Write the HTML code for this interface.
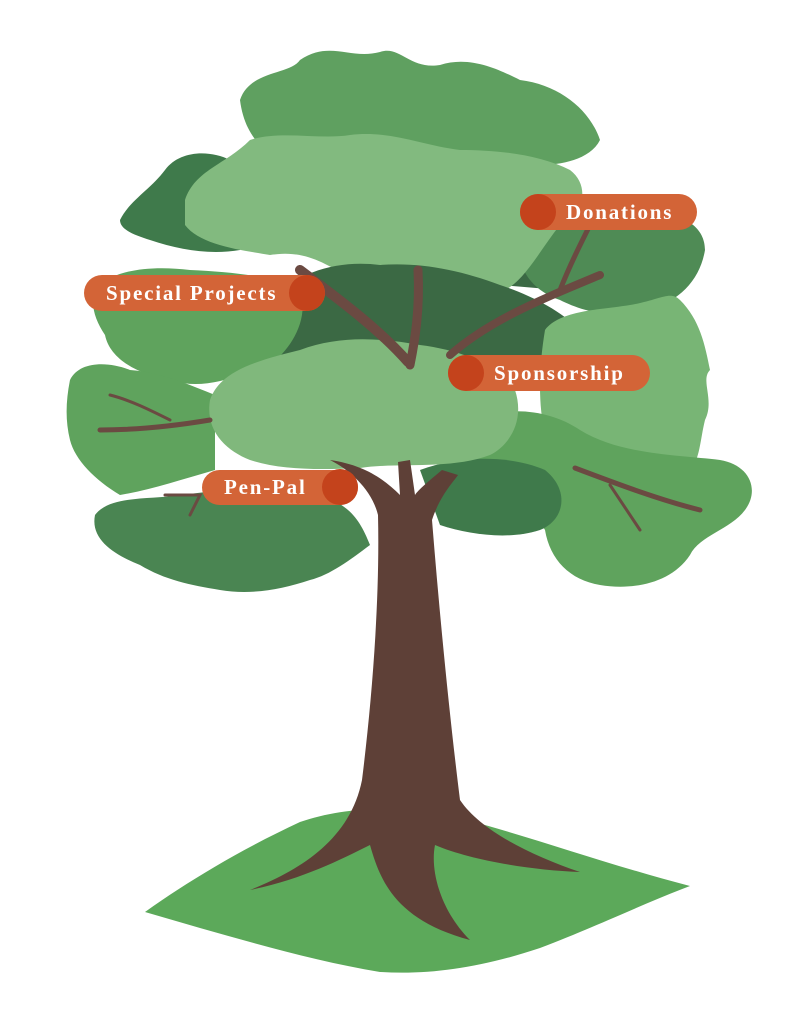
<!DOCTYPE html>
<html><head><meta charset="utf-8"><style>
html,body{margin:0;padding:0;background:#fff;}
svg{display:block;}
text{font-family:"Liberation Serif",serif;font-weight:bold;fill:#fff;letter-spacing:1.8px;}
</style></head><body>
<svg width="791" height="1023" viewBox="0 0 791 1023" xmlns="http://www.w3.org/2000/svg">
<!-- ground -->
<path d="M145,912 C190,880 240,850 300,822 C340,808 390,806 430,812 C500,825 590,860 690,886 C640,905 600,925 540,948 C480,968 430,975 380,972 C320,962 260,945 200,928 Z" fill="#5CA95A"/>
<!-- top back canopy -->
<path d="M240,100 C250,70 290,75 300,60 C330,40 350,60 380,52 C400,45 410,70 440,65 C470,55 500,70 520,80 C560,85 590,110 600,140 C590,160 560,165 540,165 L300,165 C270,160 245,140 240,100 Z" fill="#5FA060"/>
<!-- left dark top -->
<path d="M120,220 C130,200 150,190 165,170 C180,150 210,150 230,160 L240,250 C210,255 180,250 150,240 C135,235 120,230 120,220 Z" fill="#3F7A4B"/>
<!-- right dark near donations -->
<path d="M470,210 C485,200 500,210 520,225 L560,230 L560,290 L500,285 C480,270 470,240 470,210 Z" fill="#3B6944"/>
<path d="M520,240 C560,220 600,215 640,215 C680,210 705,225 705,250 C700,280 680,300 650,310 C610,320 580,310 560,300 C530,290 515,265 520,240 Z" fill="#4F8B55"/>
<!-- light center top -->
<path d="M185,200 C195,170 225,165 250,140 C280,130 320,140 350,135 C390,130 420,145 460,150 C500,150 540,155 570,170 C590,185 585,215 560,225 C540,250 525,280 505,290 C480,300 450,285 430,275 C400,280 370,285 345,275 C320,260 300,250 270,255 C240,250 200,245 185,225 Z" fill="#82BA7F"/>
<!-- middle dark band -->
<path d="M270,300 C300,270 340,260 380,265 C420,262 460,270 500,285 C530,295 560,310 580,330 L560,370 L290,370 C270,350 262,320 270,300 Z" fill="#3B6944"/>
<!-- left mid lighter green -->
<path d="M95,290 C110,270 150,265 190,270 C230,272 270,275 300,290 C310,320 290,350 270,365 C230,380 200,390 170,380 C140,375 110,360 105,335 C95,320 90,305 95,290 Z" fill="#5FA35D"/>
<!-- left lobe -->
<path d="M70,380 C80,360 110,362 130,370 C160,372 190,385 215,395 L215,470 C180,480 150,490 120,495 C95,480 75,460 70,440 C65,420 66,400 70,380 Z" fill="#5FA35D"/>
<!-- right mid light -->
<path d="M545,330 C560,310 600,310 630,305 C660,300 670,290 680,300 C700,320 705,345 710,370 C700,380 715,400 705,420 C700,440 700,460 690,470 C650,480 600,480 560,470 C540,440 535,390 545,330 Z" fill="#78B575"/>
<!-- right lower green -->
<path d="M470,420 C510,405 550,410 580,430 C620,455 680,455 720,460 C750,465 760,490 745,510 C730,530 700,535 690,555 C670,585 630,590 600,585 C570,580 550,560 545,530 C530,505 500,490 480,470 C465,455 460,435 470,420 Z" fill="#5FA35D"/>
<!-- lower left dark -->
<path d="M95,515 C110,495 150,500 180,495 C230,490 270,480 320,495 C350,505 360,520 370,545 C350,560 330,575 310,580 C280,590 250,595 220,590 C190,585 165,580 140,565 C115,555 90,540 95,515 Z" fill="#4A8552"/>
<!-- center right dark mid -->
<path d="M420,470 C460,455 510,455 545,470 C570,490 565,520 540,530 C510,540 470,535 440,525 Z" fill="#3F7A4B"/>
<!-- center big light -->
<path d="M210,400 C220,370 260,360 300,350 C340,335 380,338 420,345 C460,350 500,365 515,390 C525,420 510,445 490,455 C450,470 400,462 360,468 C320,470 280,470 250,460 C225,450 205,430 210,400 Z" fill="#80B87C"/>
<!-- branches -->
<g stroke="#6B4A42" stroke-linecap="round" fill="none">
<path d="M300,270 C340,300 380,330 408,362" stroke-width="10"/>
<path d="M418,270 C420,310 415,340 410,365" stroke-width="9"/>
<path d="M450,355 C490,320 540,300 600,275" stroke-width="8"/>
<path d="M560,290 C570,265 580,245 590,225" stroke-width="5"/>
<path d="M210,420 C180,425 140,430 100,430" stroke-width="5"/>
<path d="M170,420 C150,410 130,400 110,395" stroke-width="3"/>
<path d="M575,468 C620,485 660,500 700,510" stroke-width="5"/>
<path d="M610,485 C620,500 630,515 640,530" stroke-width="3"/>
<path d="M165,495 L200,495 L190,515" stroke-width="3"/>
</g>
<!-- trunk -->
<path d="M330,460 C350,470 372,490 378,515 C380,600 372,700 362,780 C350,840 300,870 250,890 C300,880 340,860 370,845 C380,880 395,920 470,940 C440,910 430,870 435,845 C470,860 530,870 580,872 C530,855 480,830 460,800 C450,720 440,620 432,520 C440,495 455,480 458,475 L442,470 C430,480 418,490 415,495 L410,460 L398,462 L400,495 C385,480 365,465 330,460 Z" fill="#5E4037"/>
<!-- labels -->
<rect x="520" y="194" width="177" height="36" rx="18" fill="#D36437"/>
<circle cx="538" cy="212" r="18" fill="#C4431C"/>
<text x="566" y="219" font-size="21">Donations</text>
<rect x="84" y="275" width="241" height="36" rx="18" fill="#D36437"/>
<circle cx="307" cy="293" r="18" fill="#C4431C"/>
<text x="106" y="300" font-size="21">Special Projects</text>
<rect x="448" y="355" width="202" height="36" rx="18" fill="#D36437"/>
<circle cx="466" cy="373" r="18" fill="#C4431C"/>
<text x="494" y="380" font-size="21">Sponsorship</text>
<rect x="202" y="470" width="156" height="35" rx="17.5" fill="#D36437"/>
<circle cx="340" cy="487" r="18" fill="#C4431C"/>
<text x="224" y="494" font-size="21">Pen-Pal</text>
</svg>
</body></html>
